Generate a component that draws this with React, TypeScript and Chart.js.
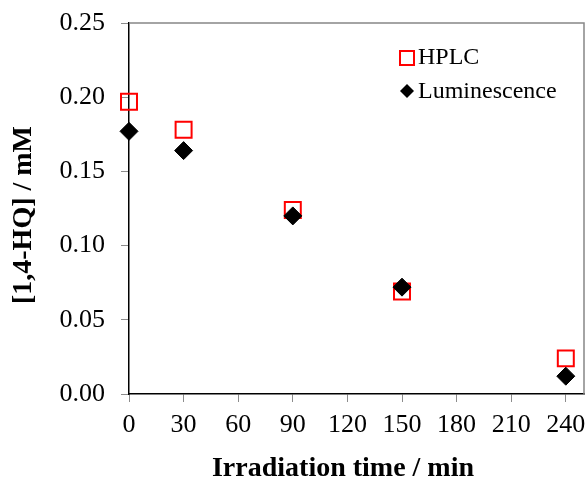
import React, { useEffect, useRef } from "react";
import { Chart, registerables } from "chart.js";

Chart.register(...registerables);

// Sampling times (min) and measured 1,4-HQ concentrations (mM)
const timesMin = [0, 30, 90, 150, 240];
const hplcValues = [0.197, 0.178, 0.124, 0.069, 0.024];
const luminescenceValues = [0.177, 0.164, 0.12, 0.072, 0.012];

const xTicks = [0, 30, 60, 90, 120, 150, 180, 210, 240];
const yTicks = [0, 0.05, 0.1, 0.15, 0.2, 0.25];

const xTitle = "Irradiation time / min";
const yTitle = "[1,4-HQ] / mM";
const seriesNames = ["HPLC", "Luminescence"];

const SERIF = "'Liberation Serif', 'Times New Roman', serif";
const RED = "#ff0000";
const FRAME_GREY = "#878787";
const TICK_GREY = "#8c8c8c";

// Keep the plot area exactly where the layout puts it (no label overhang padding)
const noOverhang = (s: any) => {
  s.paddingLeft = 0;
  s.paddingRight = 0;
  s.paddingTop = 0;
  s.paddingBottom = 0;
};

// Frame on the top/right edges, axis titles and the in-plot key
const decorations = {
  id: "decorations",
  beforeDatasetsDraw(chart: any) {
    const { ctx, chartArea: a } = chart;
    ctx.save();
    ctx.strokeStyle = FRAME_GREY;
    ctx.lineWidth = 1.5;
    ctx.beginPath();
    ctx.moveTo(a.left, a.top);
    ctx.lineTo(a.right, a.top);
    ctx.lineTo(a.right, a.bottom);
    ctx.stroke();
    ctx.restore();
  },
  afterDraw(chart: any) {
    const { ctx } = chart;
    ctx.save();
    ctx.fillStyle = "#000";
    ctx.font = `bold 28px ${SERIF}`;
    ctx.textAlign = "center";
    ctx.textBaseline = "middle";
    ctx.fillText(xTitle, 343, 469);

    ctx.save();
    ctx.translate(24, 215);
    ctx.rotate(-Math.PI / 2);
    ctx.fillText(yTitle, 0, 0);
    ctx.restore();

    // key: open red square and black diamond
    ctx.strokeStyle = RED;
    ctx.lineWidth = 2;
    ctx.strokeRect(400, 51, 14, 14);

    ctx.fillStyle = "#000";
    ctx.beginPath();
    ctx.moveTo(407, 84);
    ctx.lineTo(414, 91);
    ctx.lineTo(407, 98);
    ctx.lineTo(400, 91);
    ctx.closePath();
    ctx.fill();

    ctx.font = `24px ${SERIF}`;
    ctx.textAlign = "left";
    ctx.textBaseline = "alphabetic";
    ctx.fillText(seriesNames[0], 418, 64);
    ctx.fillText(seriesNames[1], 418, 98);
    ctx.restore();
  },
};

export default function App() {
  const canvasRef = useRef<HTMLCanvasElement | null>(null);

  useEffect(() => {
    const canvas = canvasRef.current;
    if (!canvas) return;

    const chart = new Chart(canvas, {
      type: "scatter",
      data: {
        datasets: [
          {
            label: seriesNames[1],
            data: timesMin.map((t, i) => ({ x: t, y: luminescenceValues[i] })),
            pointStyle: "rectRot",
            pointRadius: 9,
            backgroundColor: "#000",
            borderColor: "#000",
            borderWidth: 1,
            showLine: false,
            clip: false,
          },
          {
            label: seriesNames[0],
            data: timesMin.map((t, i) => ({ x: t, y: hplcValues[i] })),
            pointStyle: "rect",
            pointRadius: 11.3,
            backgroundColor: "rgba(0,0,0,0)",
            borderColor: RED,
            borderWidth: 2,
            showLine: false,
            clip: false,
          },
        ],
      },
      options: {
        responsive: false,
        animation: false,
        devicePixelRatio: 1,
        layout: { autoPadding: false, padding: { left: 0, top: 23, right: 4, bottom: 0 } },
        plugins: {
          legend: { display: false },
          tooltip: { enabled: false },
        },
        scales: {
          x: {
            type: "linear",
            min: 0,
            max: 250,
            afterFit: (s: any) => {
              s.height = 87;
              noOverhang(s);
            },
            afterBuildTicks: (s: any) => {
              s.ticks = xTicks.map((v) => ({ value: v }));
            },
            grid: {
              display: true,
              drawOnChartArea: false,
              drawTicks: true,
              tickLength: 8,
              color: TICK_GREY,
              lineWidth: 1,
            },
            border: { display: true, color: "#000", width: 1.5 },
            ticks: {
              color: "#000",
              padding: 8,
              maxRotation: 0,
              autoSkip: false,
              font: { family: SERIF, size: 26 },
              callback: (v: any) => String(v),
            },
          },
          y: {
            type: "linear",
            min: 0,
            max: 0.25,
            afterFit: (s: any) => {
              s.width = 129;
              noOverhang(s);
            },
            afterBuildTicks: (s: any) => {
              s.ticks = yTicks.map((v) => ({ value: v }));
            },
            grid: {
              display: true,
              drawOnChartArea: false,
              drawTicks: true,
              tickLength: 8,
              color: TICK_GREY,
              lineWidth: 1,
            },
            border: { display: true, color: "#000", width: 1.5 },
            ticks: {
              color: "#000",
              padding: 16,
              autoSkip: false,
              font: { family: SERIF, size: 26 },
              callback: (v: any) => Number(v).toFixed(2),
            },
          },
        },
      },
      plugins: [decorations],
    });

    return () => chart.destroy();
  }, []);

  return (
    <div style={{ position: "absolute", left: 0, top: 0, width: 588, height: 481, background: "#fff" }}>
      <canvas ref={canvasRef} width={588} height={481} style={{ display: "block" }} />
    </div>
  );
}
